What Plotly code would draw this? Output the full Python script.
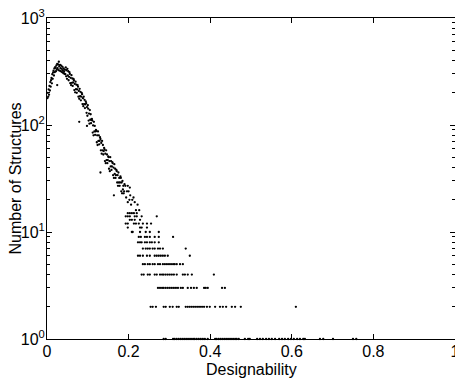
import plotly.graph_objects as go

# rising part of the distribution
rise_x = [0.001, 0.002, 0.003, 0.004, 0.005, 0.006, 0.007, 0.008, 0.009, 0.010,
          0.011, 0.012, 0.013, 0.014, 0.015, 0.016, 0.017, 0.018, 0.019, 0.020]
rise_y = [178, 200, 184, 215, 192, 232, 210, 252, 228, 262,
          275, 245, 298, 270, 310, 322, 290, 338, 312, 348]

# peak
peak_x = [0.021, 0.022, 0.023, 0.024, 0.025, 0.025, 0.026, 0.027, 0.028, 0.029,
          0.030, 0.031, 0.032, 0.033, 0.034, 0.035, 0.036, 0.037, 0.038, 0.039,
          0.040, 0.041, 0.042, 0.043, 0.044, 0.045]
peak_y = [342, 318, 360, 330, 372, 236, 340, 368, 326, 390,
          355, 322, 365, 340, 318, 358, 335, 312, 350, 325,
          305, 338, 315, 300, 328, 298]

# decay 0.046 - 0.100
decay_x = [0.046, 0.047, 0.048, 0.049, 0.050, 0.051, 0.052, 0.053, 0.054, 0.055,
           0.056, 0.057, 0.058, 0.059, 0.060, 0.061, 0.062, 0.063, 0.064, 0.065,
           0.066, 0.067, 0.068, 0.069, 0.070, 0.071, 0.072, 0.073, 0.074, 0.075,
           0.076, 0.077, 0.078, 0.079, 0.080, 0.081, 0.082, 0.083, 0.084, 0.085,
           0.086, 0.087, 0.088, 0.089, 0.090, 0.091, 0.092, 0.093, 0.094, 0.095,
           0.096, 0.097, 0.098, 0.099, 0.100, 0.079, 0.098]
decay_y = [345, 285, 325, 270, 335, 290, 318, 262, 282, 312,
           300, 246, 276, 236, 292, 248, 272, 232, 250, 270,
           262, 212, 242, 202, 254, 216, 238, 200, 215, 236,
           228, 184, 208, 176, 218, 186, 204, 170, 184, 200,
           194, 157, 178, 150, 184, 157, 172, 144, 156, 166,
           160, 130, 147, 122, 153, 107, 98]

# tail 0.10 - 0.23
tail_x = [0.101, 0.102, 0.103, 0.104, 0.105, 0.106, 0.107, 0.108, 0.109, 0.110,
          0.111, 0.112, 0.113, 0.114, 0.115, 0.116, 0.117, 0.118, 0.119, 0.120,
          0.121, 0.122, 0.123, 0.124, 0.125, 0.126, 0.127, 0.128, 0.129, 0.130,
          0.131, 0.132, 0.133, 0.134, 0.135, 0.136, 0.137, 0.138, 0.139, 0.140,
          0.141, 0.142, 0.143, 0.144, 0.145, 0.146, 0.147, 0.148, 0.149, 0.150,
          0.151, 0.152, 0.153, 0.154, 0.155, 0.156, 0.157, 0.158, 0.159, 0.160,
          0.161, 0.162, 0.163, 0.164, 0.165, 0.166, 0.167, 0.168, 0.169, 0.170,
          0.171, 0.172, 0.173, 0.174, 0.175, 0.176, 0.177, 0.178, 0.179, 0.180,
          0.181, 0.182, 0.183, 0.184, 0.185, 0.186, 0.187, 0.188, 0.189, 0.190,
          0.192, 0.194, 0.196, 0.198, 0.200, 0.202, 0.204, 0.206, 0.209, 0.212,
          0.215, 0.218, 0.222, 0.226, 0.131, 0.164, 0.198, 0.203]
tail_y = [142, 110, 128, 103, 138, 112, 126, 104, 112, 114,
          110, 85, 99, 80, 107, 87, 98, 81, 87, 90,
          88, 69, 80, 65, 87, 71, 80, 66, 71, 77,
          74, 58, 68, 54, 71, 58, 65, 53, 57, 61,
          59, 46, 54, 44, 58, 47, 53, 44, 47, 51,
          50, 39, 46, 37, 50, 41, 46, 38, 41, 45,
          44, 34, 40, 32, 43, 35, 39, 32, 34, 38,
          37, 29, 34, 27, 36, 29, 32, 27, 29, 33,
          32, 24, 29, 23, 30, 25, 27, 23, 24, 28,
          27, 21, 24, 19, 24, 20, 22, 18, 20, 21,
          19, 16, 18, 16, 36, 22, 27, 26]

# low counts: designability values for each integer count
row_x = {
    1: [0.286, 0.291, 0.309, 0.313, 0.318, 0.323, 0.328, 0.333, 0.338, 0.343,
        0.348, 0.353, 0.358, 0.362, 0.367, 0.372, 0.377, 0.382, 0.387, 0.394,
        0.412, 0.416, 0.421, 0.426, 0.431, 0.436, 0.441, 0.446, 0.451, 0.456,
        0.461, 0.465, 0.470, 0.485, 0.493, 0.497, 0.515, 0.522, 0.529, 0.537,
        0.544, 0.551, 0.559, 0.569, 0.576, 0.583, 0.591, 0.598, 0.605, 0.613,
        0.620, 0.628, 0.632, 0.669, 0.677, 0.701, 0.750, 0.758],
    2: [0.254, 0.259, 0.267, 0.286, 0.291, 0.301, 0.308, 0.318, 0.323, 0.340,
        0.345, 0.350, 0.355, 0.360, 0.365, 0.370, 0.375, 0.380, 0.385, 0.392,
        0.399, 0.412, 0.424, 0.431, 0.439, 0.453, 0.461, 0.475, 0.610],
    3: [0.272, 0.277, 0.282, 0.286, 0.291, 0.296, 0.301, 0.306, 0.311, 0.316,
        0.321, 0.328, 0.333, 0.345, 0.353, 0.360, 0.367, 0.385, 0.389, 0.394,
        0.429, 0.436],
    4: [0.232, 0.237, 0.247, 0.252, 0.264, 0.269, 0.277, 0.282, 0.286, 0.291,
        0.296, 0.301, 0.306, 0.311, 0.318, 0.333, 0.338, 0.345, 0.355, 0.409],
    5: [0.235, 0.240, 0.247, 0.252, 0.259, 0.264, 0.272, 0.277, 0.284, 0.289,
        0.294, 0.299, 0.304, 0.309, 0.313, 0.318, 0.326, 0.333],
    6: [0.223, 0.228, 0.235, 0.245, 0.252, 0.264, 0.269, 0.274, 0.279, 0.284,
        0.289, 0.296, 0.350],
    7: [0.235, 0.242, 0.247, 0.252, 0.259, 0.264, 0.272, 0.277, 0.284, 0.340],
    8: [0.223, 0.228, 0.232, 0.240, 0.245, 0.252, 0.257, 0.264, 0.274],
    9: [0.225, 0.230, 0.240, 0.245, 0.252, 0.264, 0.274, 0.309],
    10: [0.208, 0.210, 0.228, 0.242, 0.252, 0.274],
    11: [0.198, 0.228, 0.232, 0.245],
    12: [0.193, 0.198, 0.213, 0.218, 0.225, 0.235, 0.245, 0.255],
    13: [0.203, 0.208, 0.215, 0.228],
    14: [0.193, 0.198, 0.203, 0.215, 0.220, 0.232, 0.269],
    15: [0.198, 0.203, 0.208, 0.213, 0.220],
}

x_ticks = [0, 0.2, 0.4, 0.6, 0.8, 1]
x_labels = ['0', '0.2', '0.4', '0.6', '0.8', '1']
y_ticks = [1, 10, 100, 1000]
y_labels = ['10<sup>0</sup>', '10<sup>1</sup>', '10<sup>2</sup>', '10<sup>3</sup>']
y_minor = [2, 3, 4, 5, 6, 7, 8, 9, 20, 30, 40, 50, 60, 70, 80, 90,
           200, 300, 400, 500, 600, 700, 800, 900]

xs = rise_x + peak_x + decay_x + tail_x
ys = rise_y + peak_y + decay_y + tail_y
for count, vals in row_x.items():
    xs += vals
    ys += [count] * len(vals)

fig = go.Figure()
fig.add_trace(go.Scatter(
    x=xs, y=ys, mode='markers', cliponaxis=False,
    marker=dict(color='black', size=2.3, line=dict(width=0)),
    showlegend=False, hoverinfo='skip',
))
# empty trace so the top / right tick axes get drawn
fig.add_trace(go.Scatter(x=[], y=[], xaxis='x2', yaxis='y2', showlegend=False))

axis_common = dict(ticks='inside', ticklen=5, tickcolor='black', tickwidth=1,
                   showline=True, linecolor='black', linewidth=1,
                   showgrid=False, zeroline=False, automargin=False,
                   ticklabeloverflow='allow')

# page body has an 8px margin, so the figure is 8px smaller and margins shifted
fig.update_layout(
    width=455, height=370,
    paper_bgcolor='white', plot_bgcolor='white',
    font=dict(family='Liberation Sans, Arial', size=16, color='black'),
    margin=dict(l=39, r=8, t=10, b=39),
    xaxis=dict(range=[0, 1], tickvals=x_ticks, ticktext=x_labels,
               ticklabelstandoff=-2, **axis_common),
    yaxis=dict(type='log', range=[0, 3], tickvals=y_ticks, ticktext=y_labels,
               ticklabelstandoff=-2,
               minor=dict(ticks='inside', ticklen=3, tickcolor='black',
                          tickvals=y_minor, showgrid=False),
               **axis_common),
    xaxis2=dict(range=[0, 1], tickvals=x_ticks, showticklabels=False,
                overlaying='x', side='top', anchor='y', **axis_common),
    yaxis2=dict(type='log', range=[0, 3], tickvals=y_ticks, showticklabels=False,
                minor=dict(ticks='inside', ticklen=3, tickcolor='black',
                           tickvals=y_minor, showgrid=False),
                overlaying='y', side='right', anchor='x', **axis_common),
)

# axis titles as annotations so they sit where the reference has them
fig.add_annotation(text='Designability', xref='paper', yref='paper',
                   x=0.5, y=0, yshift=-30, showarrow=False,
                   xanchor='center', yanchor='middle')
fig.add_annotation(text='Number of Structures', xref='paper', yref='paper',
                   x=0, y=0.5, xshift=-32, showarrow=False, textangle=-90,
                   xanchor='center', yanchor='middle')

fig.write_html("out.html")
